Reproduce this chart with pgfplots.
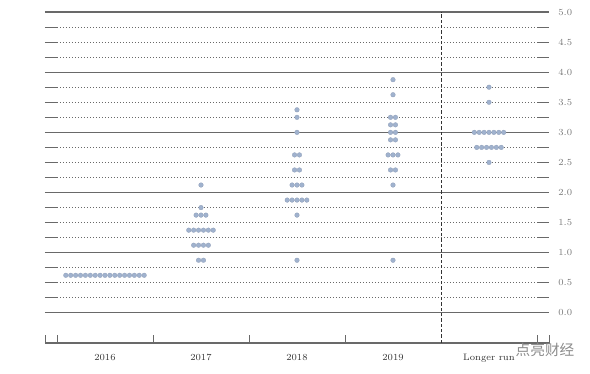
\documentclass[border=0pt]{standalone}
\usepackage{fontspec}
\newfontfamily\cjk{Noto Sans CJK SC}
\usepackage{pgfplots}
\pgfplotsset{compat=1.18}
\definecolor{dotc}{RGB}{160,178,206}
\definecolor{dotedge}{RGB}{140,156,182}
\definecolor{gridc}{RGB}{105,105,105}
\definecolor{labc}{RGB}{120,120,120}
\begin{document}
\begin{tikzpicture}
\begin{axis}[
  scale only axis, width=378pt, height=248.25pt,
  xmin=-0.625, xmax=4.625, ymin=-0.5, ymax=5,
  axis line style={draw=none},
  xtick={0,1,2,3,4}, xticklabels={2016,2017,2018,2019,Longer run},
  ytick={0,0.5,1,1.5,2,2.5,3,3.5,4,4.5,5},
  yticklabel pos=right,
  yticklabel style={/pgf/number format/.cd, fixed, fixed zerofill, precision=1, /tikz/.cd, text=labc, xshift=3.5pt},
  xticklabel style={yshift=-5pt, text=black!80},
  major tick length=0pt,
  tick style={draw=none},
  ticklabel style={font=\fontsize{7}{8}\selectfont},
  clip=false,
]
\pgfplotsinvokeforeach{0,1,2,3,4,5}{
  \draw[gridc, line width=0.8pt] (axis cs:-0.625,#1) -- (axis cs:4.625,#1);
}
\pgfplotsinvokeforeach{0.25,0.5,0.75,1.25,1.5,1.75,2.25,2.5,2.75,3.25,3.5,3.75,4.25,4.5,4.75}{
  \draw[gridc, line width=0.7pt] (axis cs:-0.625,#1) -- (axis cs:-0.5,#1);
  \draw[gridc, line width=0.7pt, dash pattern=on 0.6pt off 1.65pt] (axis cs:-0.5,#1) -- (axis cs:4.5,#1);
  \draw[gridc, line width=0.7pt] (axis cs:4.5,#1) -- (axis cs:4.625,#1);
}
\draw[gridc, line width=0.8pt] (axis cs:-0.625,-0.5) -- (axis cs:4.64,-0.5);
\pgfplotsinvokeforeach{-0.625,-0.5,0.5,1.5,2.5,4.5,4.625}{
  \draw[gridc, line width=0.6pt] (axis cs:#1,-0.5) -- (axis cs:#1,-0.367);
}
\draw[black!80, line width=0.7pt, dash pattern=on 2.5pt off 1.5pt] (axis cs:3.5,-0.5) -- (axis cs:3.5,5.0);

% 2016
\addplot[only marks, mark=*, mark size=1.75pt, mark options={fill=dotc, draw=dotedge, line width=0.2pt}] coordinates {
(-0.408,0.625) (-0.357,0.625) (-0.306,0.625) (-0.255,0.625) (-0.204,0.625) (-0.153,0.625) (-0.102,0.625) (-0.051,0.625) (0,0.625) (0.051,0.625) (0.102,0.625) (0.153,0.625) (0.204,0.625) (0.255,0.625) (0.306,0.625) (0.357,0.625) (0.408,0.625)
};
% 2017
\addplot[only marks, mark=*, mark size=1.75pt, mark options={fill=dotc, draw=dotedge, line width=0.2pt}] coordinates {
(0.9745,0.875) (1.0255,0.875)
(0.9235,1.125) (0.9745,1.125) (1.0255,1.125) (1.0765,1.125)
(0.8725,1.375) (0.9235,1.375) (0.9745,1.375) (1.0255,1.375) (1.0765,1.375) (1.1275,1.375)
(0.949,1.625) (1,1.625) (1.051,1.625)
(1,1.75)
(1,2.125)
};
% 2018
\addplot[only marks, mark=*, mark size=1.75pt, mark options={fill=dotc, draw=dotedge, line width=0.2pt}] coordinates {
(2,0.875)
(2,1.625)
(1.898,1.875) (1.949,1.875) (2,1.875) (2.051,1.875) (2.102,1.875)
(1.949,2.125) (2,2.125) (2.051,2.125)
(1.9745,2.375) (2.0255,2.375)
(1.9745,2.625) (2.0255,2.625)
(2,3.0)
(2,3.25)
(2,3.375)
};
% 2019
\addplot[only marks, mark=*, mark size=1.75pt, mark options={fill=dotc, draw=dotedge, line width=0.2pt}] coordinates {
(3,0.875)
(3,2.125)
(2.9745,2.375) (3.0255,2.375)
(2.949,2.625) (3,2.625) (3.051,2.625)
(2.9745,2.875) (3.0255,2.875)
(2.9745,3.0) (3.0255,3.0)
(2.9745,3.125) (3.0255,3.125)
(2.9745,3.25) (3.0255,3.25)
(3,3.625)
(3,3.875)
};
% Longer run
\addplot[only marks, mark=*, mark size=1.75pt, mark options={fill=dotc, draw=dotedge, line width=0.2pt}] coordinates {
(4,2.5)
(3.8725,2.75) (3.9235,2.75) (3.9745,2.75) (4.0255,2.75) (4.0765,2.75) (4.1275,2.75)
(3.847,3.0) (3.898,3.0) (3.949,3.0) (4,3.0) (4.051,3.0) (4.102,3.0) (4.153,3.0)
(4,3.5)
(4,3.75)
};
\end{axis}
\node[text=black!45, font=\cjk\fontsize{11}{12}\selectfont] at ([xshift=375pt,yshift=-5.25pt]current axis.south west) {点亮财经};
\pgfresetboundingbox
\path[use as bounding box] (current axis.south west) ++(-33.75pt,-23.25pt) rectangle ++(442.5pt,280.5pt);
\end{tikzpicture}
\end{document}
